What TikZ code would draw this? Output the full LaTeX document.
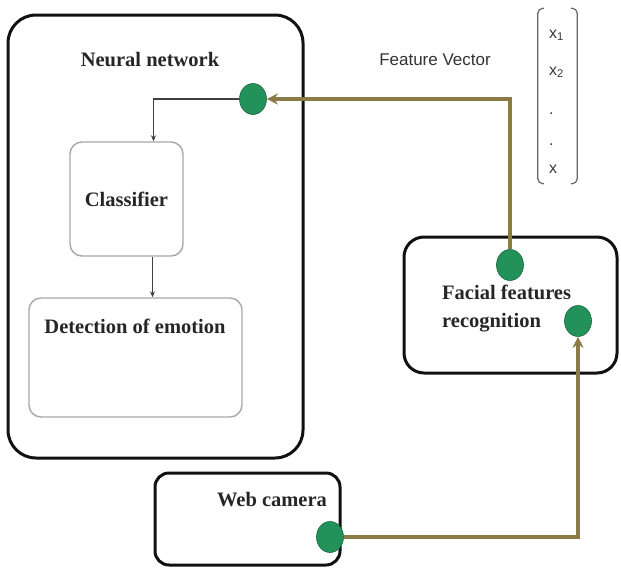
\documentclass[tikz,border=0pt]{standalone}
\usepackage{fontspec}
\setmainfont{Liberation Serif}
\newfontfamily\vecfont{Liberation Sans}
\definecolor{olive}{HTML}{8A7B45}
\definecolor{dotgreen}{HTML}{23915A}
\definecolor{frame}{HTML}{111111}
\definecolor{soft}{HTML}{A8A8A8}
\definecolor{vecgray}{HTML}{3A3A3A}
\usetikzlibrary{arrows.meta, positioning, shapes.geometric}
\tikzset{
  outer/.style={draw=frame, line width=3pt, rounded corners=#1, fill=white},
  outer/.default=28pt,
  inner/.style={draw=soft, line width=1.4pt, rounded corners=12pt, fill=white},
  title/.style={font=\fontsize{20.5}{28}\selectfont\bfseries, text=black!85, inner sep=0pt},
  port/.style={ellipse, fill=dotgreen, draw=dotgreen!70!black, line width=0.6pt,
               minimum width=27pt, minimum height=31pt, inner sep=0pt},
  feed/.style={-{Stealth[length=11pt,width=11pt]}, line width=3.2pt, color=olive},
  thin/.style={-{Stealth[length=6pt,width=5pt]}, line width=1.2pt, color=black!75},
}
\begin{document}
\begin{tikzpicture}[x=1pt,y=-1pt,
        vx/.style={font=\vecfont\fontsize{16}{18}\selectfont, text=vecgray, inner sep=0pt, anchor=base west},
        brk/.style={draw=black!60, line width=1.2pt, rounded corners=5pt}]
        \useasboundingbox (0,0) rectangle (621,570);
        % boxes
        \node[outer, minimum width=295pt, minimum height=443pt] (nn) at (155.5,236.5) {};
        \node[title] (nnlbl) at (150,60) {Neural network};
        \node[inner, minimum width=113pt, minimum height=114pt, title] (clf) at (126.5,199) {Classifier};
        \node[inner, minimum width=213pt, minimum height=119pt] (det) at (135.5,357.5) {};
        \node[title] (detlbl) at (135,326) {Detection of emotion};
        \node[outer=20pt, minimum width=213pt, minimum height=136pt] (face) at (510.5,305) {};
        \node[title, align=left, anchor=west] (facelbl) at (442,309) {Facial features\\recognition};
        \node[outer=14pt, minimum width=185pt, minimum height=92pt] (cam) at (247.5,519) {};
        \node[title] (camlbl) at (272,500) {Web camera};
        % ports
        \node[port] (inNN) at (253,99) {};
        \node[port] (outFace) at (510,265) {};
        \node[port] (inFace) at (578,321) {};
        \node[port] (outCam) at (330,537) {};
        % feature vector
        \node[font=\vecfont\fontsize{17}{20}\selectfont, text=black!80] (fvlbl) at (435,60) {Feature Vector};
        \node[minimum width=39pt, minimum height=175pt, inner sep=0pt] (vec) at (557.5,96) {};
        \draw[brk] ([xshift=6pt]vec.north west) -- (vec.north west) -- (vec.south west) -- ([xshift=6pt]vec.south west);
        \draw[brk] ([xshift=-6pt]vec.north east) -- (vec.north east) -- (vec.south east) -- ([xshift=-6pt]vec.south east);
        \foreach \t/\y in {x\textsubscript{1}/38, x\textsubscript{2}/75, ./114, ./145, x/173}
          \node[vx] at (549,\y) {\t};
        % connectors
        \draw[feed] (outFace) |- (inNN);
        \draw[feed] (outCam) -| (inFace);
        \draw[thin] (inNN) -| ([xshift=27pt]clf.north);
        \draw[thin] ([xshift=26pt]clf.south) -- ([xshift=26pt]clf.south |- det.north);
      \end{tikzpicture}
\end{document}
